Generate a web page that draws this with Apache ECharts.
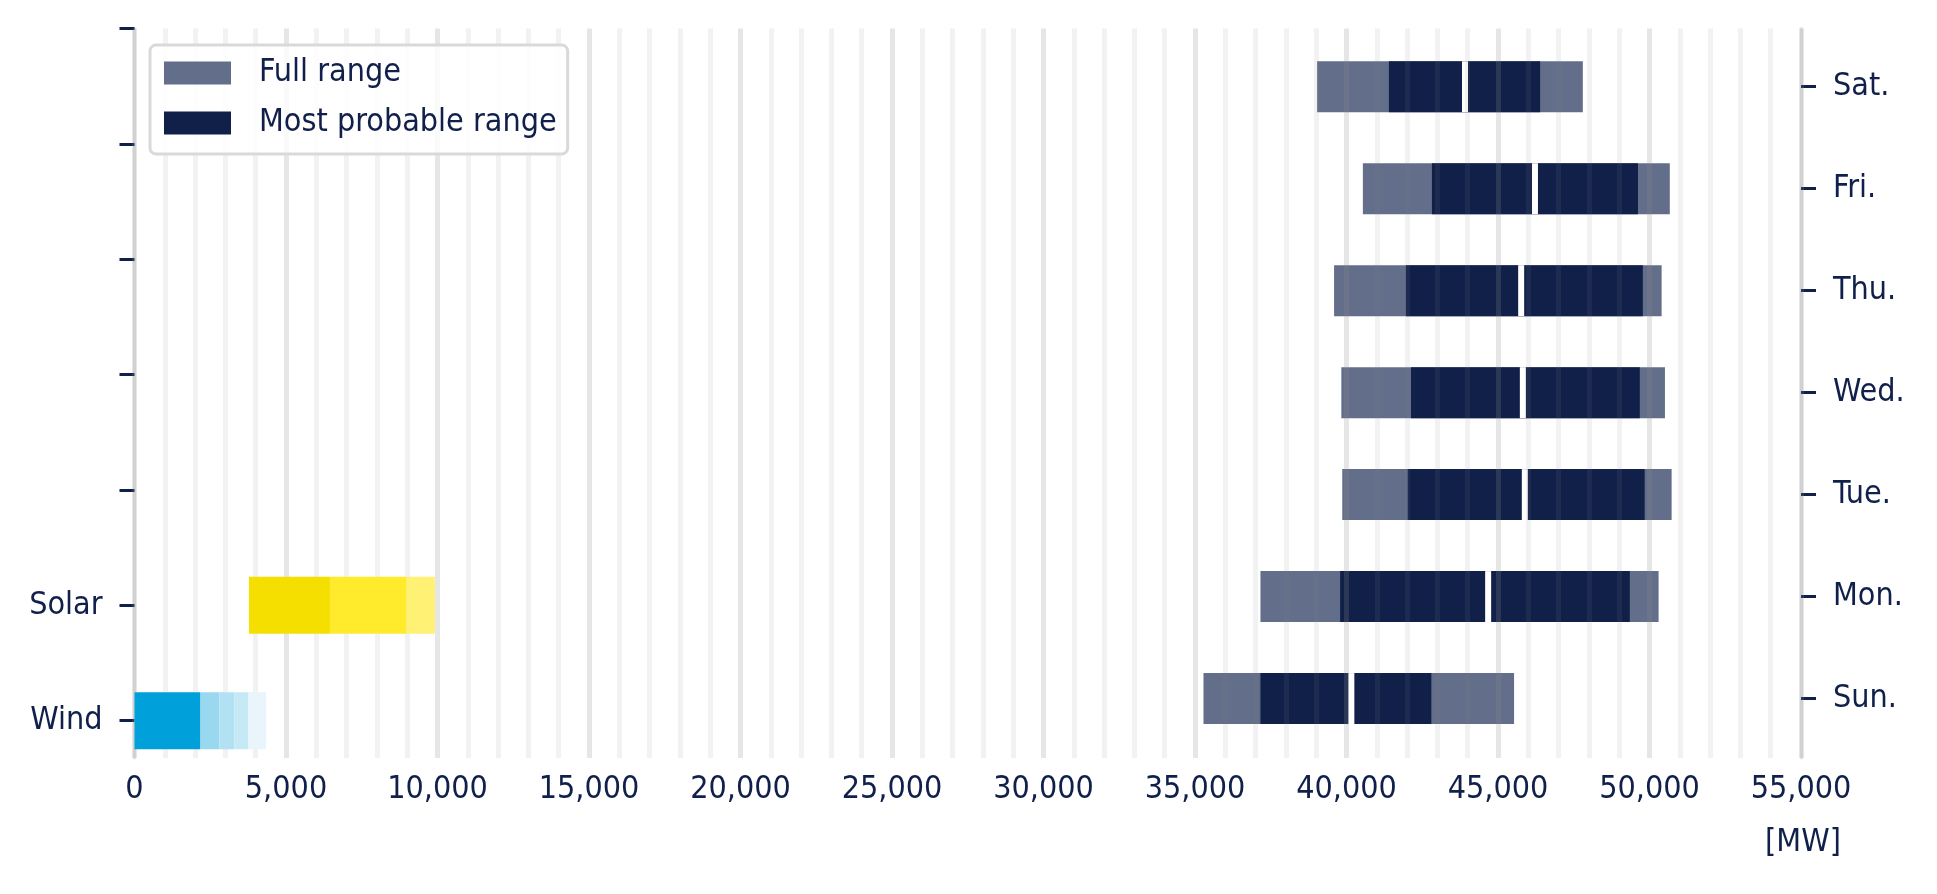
<!DOCTYPE html>
<html>
<head>
    <meta charset="utf-8">
    <script src="https://cdn.jsdelivr.net/npm/echarts@6/dist/echarts.min.js"></script>
    <style>
        html, body { margin: 0; padding: 0; background: #fff; }
    </style>
</head>
<body>
<div id="myChart" style="width: 1937px; height: 894px;"></div>

<script type="text/javascript">
    var chart = echarts.init(document.getElementById('myChart'));

    // weekday forecast, MW
    var days = ['Sun.', 'Mon.', 'Tue.', 'Wed.', 'Thu.', 'Fri.', 'Sat.'];
    var fullLow = [35280, 37160, 39860, 39830, 39590, 40540, 39030];
    var fullHigh = [45530, 50300, 50730, 50510, 50400, 50670, 47800];
    var probLow = [37160, 39790, 42020, 42130, 41960, 42820, 41400];
    var probHigh = [42800, 49350, 49840, 49680, 49780, 49620, 46390];
    var median = [40160, 44675, 45885, 45820, 45765, 46220, 43910];

    // renewables, band edges in MW
    var sources = ['Wind', 'Solar'];
    var windEdges = [0, 2178, 2805, 3300, 3762, 4345];
    var solarEdges = [3778, 6450, 8981, 9914];

    var navy = '#10204a';
    var fullColor = '#636e8a';
    var probColor = '#112049';
    var windColors = ['#00a1da', '#9ad8f0', '#b1e1f3', '#c6e9f6', '#e9f5fb'];
    var solarColors = ['#f5df00', '#ffea2c', '#fff173'];
    var font = "'DejaVu Sans Condensed', 'Liberation Sans Narrow', 'Noto Sans', sans-serif";

    var dayData = days.map(function (d, i) {
        return [fullLow[i], probLow[i], median[i], probHigh[i], fullHigh[i], i];
    });

    var renewData = [];
    [windEdges, solarEdges].forEach(function (edges, k) {
        for (var i = 0; i < edges.length - 1; i++) {
            renewData.push([edges[i], edges[i + 1], k, i]);
        }
    });

    function rect(api, x0, x1, yv, frac, color) {
        var a = api.coord([x0, yv]);
        var b = api.coord([x1, yv]);
        var h = api.size([0, 1])[1] * frac;
        return {
            type: 'rect',
            shape: {x: a[0], y: a[1] - h / 2, width: b[0] - a[0], height: h},
            style: {fill: color}
        };
    }

    var option = {
        animation: false,
        backgroundColor: '#fff',
        textStyle: {fontFamily: font},
        legend: {
            orient: 'vertical',
            left: 150,
            top: 45,
            padding: [10, 11, 13, 14],
            itemWidth: 67,
            itemHeight: 23,
            itemGap: 14,
            icon: 'rect',
            borderColor: '#d9d9d9',
            borderWidth: 3,
            borderRadius: 6,
            backgroundColor: 'rgba(255,255,255,0.8)',
            textStyle: {color: navy, fontSize: 32, fontFamily: font, lineHeight: 36, padding: [0, 0, 0, 23]},
            data: ['Full range', 'Most probable range'],
        },
        grid: {
            left: 134.5,
            right: 136,
            top: 28.5,
            bottom: 136,
        },
        // unit label under the right end of the x axis
        graphic: [{
            type: 'text',
            x: 1803,
            y: 843,
            style: {
                text: '[MW]',
                fill: navy,
                font: '32px ' + font,
                align: 'center',
                verticalAlign: 'middle',
            },
        }],
        xAxis: {
            type: 'value',
            min: 0,
            max: 55000,
            interval: 1000,
            z: 2,
            axisLine: {show: false},
            axisTick: {show: false},
            axisLabel: {
                color: navy,
                fontSize: 32,
                fontFamily: font,
                margin: 16,
                formatter: function (v) {
                    return v % 5000 === 0 ? v.toLocaleString('en-US') : '';
                },
            },
            splitLine: {
                lineStyle: {
                    width: 5,
                    color: ['rgba(140,140,140,0.22)', 'rgba(140,140,140,0.11)', 'rgba(140,140,140,0.11)',
                        'rgba(140,140,140,0.11)', 'rgba(140,140,140,0.11)'],
                },
            },
        },
        yAxis: [{
            type: 'value',
            position: 'left',
            min: -0.323,
            max: 6,
            axisLine: {show: true, lineStyle: {color: '#e4e4e4', width: 3}},
            axisTick: {show: true, length: 15, customValues: [0, 1, 2, 3, 4, 5, 6], lineStyle: {color: navy, width: 3}},
            axisLabel: {
                customValues: [0, 1],
                color: navy,
                fontSize: 32,
                fontFamily: font,
                margin: 32,
                formatter: function (v) { return sources[Math.round(v)] || ''; },
            },
            splitLine: {show: false},
        }, {
            type: 'value',
            position: 'right',
            min: -0.583,
            max: 6.571,
            axisLine: {show: true, lineStyle: {color: '#e4e4e4', width: 3}},
            axisTick: {show: true, length: 15, customValues: [0, 1, 2, 3, 4, 5, 6], lineStyle: {color: navy, width: 3}},
            axisLabel: {
                customValues: [0, 1, 2, 3, 4, 5, 6],
                color: navy,
                fontSize: 32,
                fontFamily: font,
                margin: 32,
                formatter: function (v) { return days[Math.round(v)] || ''; },
            },
            splitLine: {show: false},
        }],
        series: [{
            name: 'Full range',
            type: 'custom',
            xAxisIndex: 0,
            yAxisIndex: 1,
            z: 1,
            itemStyle: {color: fullColor},
            encode: {x: [0, 4], y: 5},
            renderItem: function (params, api) {
                return rect(api, api.value(0), api.value(4), api.value(5), 0.5, fullColor);
            },
            data: dayData,
        }, {
            name: 'Most probable range',
            type: 'custom',
            xAxisIndex: 0,
            yAxisIndex: 1,
            z: 1,
            itemStyle: {color: probColor},
            encode: {x: [1, 3], y: 5},
            renderItem: function (params, api) {
                var y = api.value(5);
                var bar = rect(api, api.value(1), api.value(3), y, 0.5, probColor);
                var m = api.coord([api.value(2), y]);
                var h = api.size([0, 1])[1] * 0.5;
                // white cut at the median
                return {
                    type: 'group',
                    children: [bar, {
                        type: 'rect',
                        shape: {x: m[0] - 3, y: m[1] - h / 2, width: 6, height: h},
                        style: {fill: '#fff'}
                    }]
                };
            },
            data: dayData,
        }, {
            name: 'Renewables',
            type: 'custom',
            xAxisIndex: 0,
            yAxisIndex: 0,
            z: 3,
            encode: {x: [0, 1], y: 2},
            renderItem: function (params, api) {
                var k = api.value(2);
                var colors = k === 0 ? windColors : solarColors;
                return rect(api, api.value(0), api.value(1), k, 0.494, colors[api.value(3)]);
            },
            data: renewData,
        }],
    };

    chart.setOption(option);
</script>
</body>
</html>
